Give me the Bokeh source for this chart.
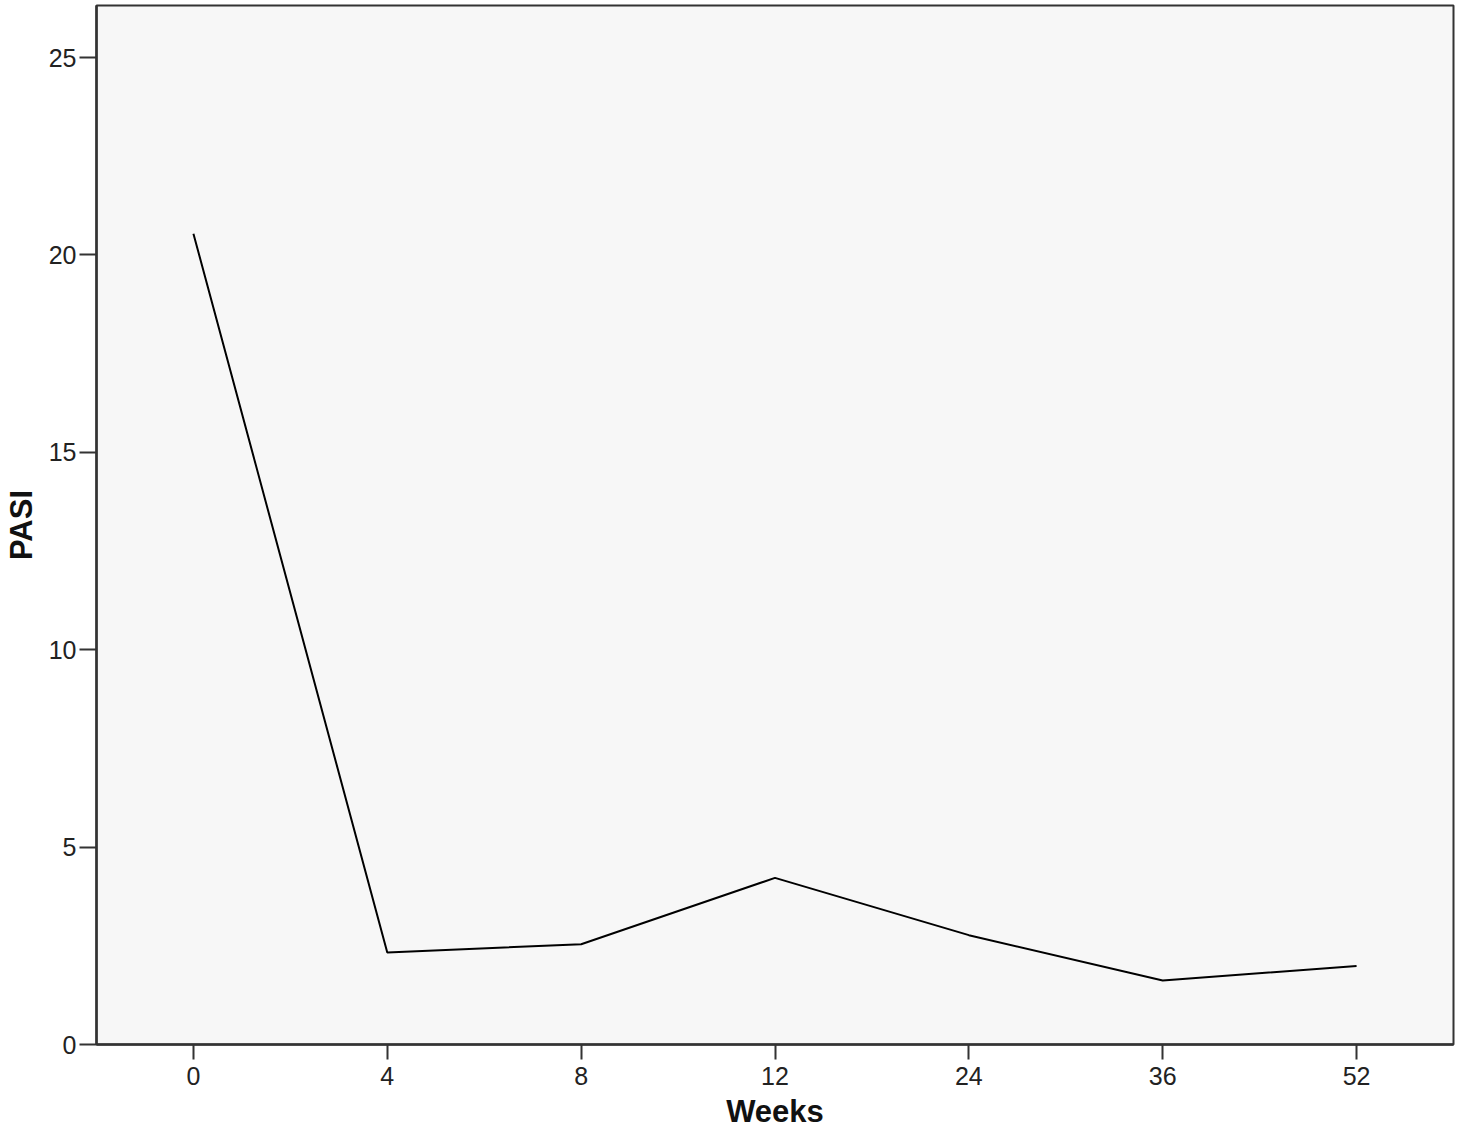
from bokeh.plotting import figure
from bokeh.models import Range1d, FixedTicker
from bokeh.embed import file_html
from bokeh.resources import INLINE

weeks = ["0", "4", "8", "12", "24", "36", "52"]
pasi = [20.54, 2.33, 2.54, 4.22, 2.77, 1.62, 1.99]
y_ticks = [0, 5, 10, 15, 20, 25]

p = figure(x_range=weeks, y_range=Range1d(0, 26.32),
           width=1459, height=1131,
           min_border_left=95, min_border_right=6,
           min_border_top=5, min_border_bottom=84,
           output_backend="svg", toolbar_location=None)

p.background_fill_color = "#f7f7f7"
p.border_fill_color = "white"
p.outline_line_color = "#333333"
p.outline_line_width = 2
p.xgrid.visible = False
p.ygrid.visible = False

p.line(weeks, pasi, line_color="black", line_width=2)

for ax in (p.xaxis[0], p.yaxis[0]):
    ax.axis_line_color = "#333333"
    ax.axis_line_width = 2.5
    ax.major_tick_line_color = "#333333"
    ax.major_tick_line_width = 2
    ax.major_tick_in = 0
    ax.minor_tick_line_color = None
    ax.major_label_text_font = "Liberation Sans"
    ax.major_label_text_font_size = "25px"
    ax.major_label_text_color = "#222222"
    ax.axis_label_text_font = "Liberation Sans"
    ax.axis_label_text_font_size = "31px"
    ax.axis_label_text_font_style = "bold"
    ax.axis_label_text_color = "#111111"

p.xaxis.axis_label = "Weeks"
p.yaxis.axis_label = "PASI"
p.xaxis.major_tick_out = 15
p.yaxis.major_tick_out = 17
p.xaxis.major_label_standoff = 7
p.yaxis.major_label_standoff = 3
p.xaxis.axis_label_standoff = 6
p.yaxis.axis_label_standoff = 7
p.yaxis.ticker = FixedTicker(ticks=y_ticks)

open("out.html", "w").write(file_html(p, INLINE))
